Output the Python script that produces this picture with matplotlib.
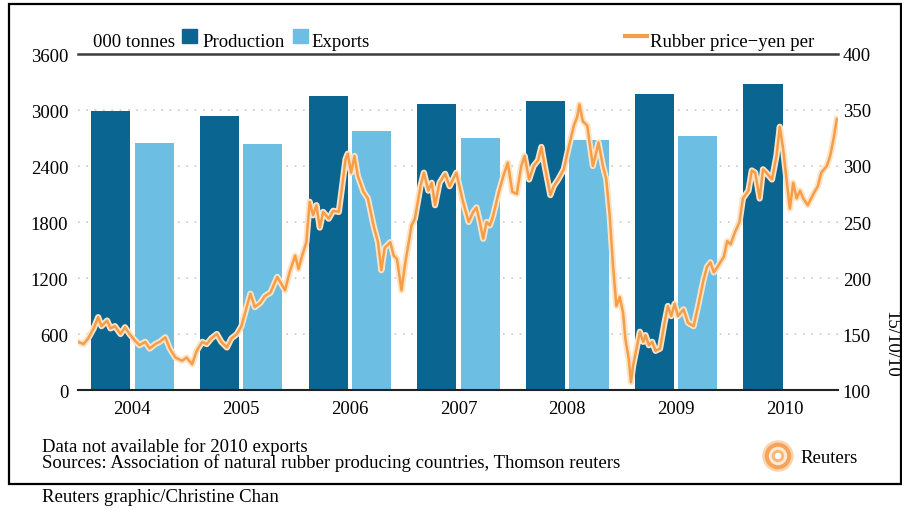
import matplotlib
matplotlib.use('Agg')
import matplotlib.pyplot as plt
import matplotlib.patheffects as pe
from matplotlib.patches import Rectangle, Circle

plt.rcParams['font.family'] = ['Liberation Serif', 'DejaVu Serif']
plt.rcParams['font.size'] = 13.5

# 000 tonnes
years = ['2004', '2005', '2006', '2007', '2008', '2009', '2010']
production = [2990, 2940, 3145, 3065, 3100, 3170, 3280]
exports = [2645, 2635, 2780, 2705, 2680, 2725]  # no 2010 data

# rubber price, yen per kg (date as fractional year)
price_t = [2004.00, 2004.05, 2004.09, 2004.14, 2004.18, 2004.21, 2004.26, 2004.29, 2004.33, 2004.38,
           2004.42, 2004.46, 2004.51, 2004.55, 2004.60, 2004.64, 2004.69, 2004.73, 2004.78, 2004.82,
           2004.87, 2004.93, 2004.97, 2005.02, 2005.06, 2005.11, 2005.15, 2005.19, 2005.24, 2005.28,
           2005.33, 2005.37, 2005.42, 2005.46, 2005.51, 2005.54, 2005.58, 2005.63, 2005.67, 2005.72,
           2005.78, 2005.85, 2005.89, 2005.94, 2005.97, 2006.00, 2006.04, 2006.07, 2006.10, 2006.13,
           2006.16, 2006.19, 2006.24, 2006.28, 2006.33, 2006.36, 2006.39, 2006.41, 2006.44, 2006.47,
           2006.50, 2006.55, 2006.59, 2006.64, 2006.68, 2006.71, 2006.74, 2006.79, 2006.82, 2006.85,
           2006.89, 2006.92, 2006.95, 2006.98, 2007.01, 2007.06, 2007.09, 2007.13, 2007.16, 2007.19,
           2007.23, 2007.28, 2007.32, 2007.38, 2007.41, 2007.44, 2007.49, 2007.53, 2007.56, 2007.59,
           2007.62, 2007.65, 2007.68, 2007.71, 2007.76, 2007.80, 2007.84, 2007.88, 2007.92, 2007.96,
           2007.99, 2008.03, 2008.07, 2008.11, 2008.14, 2008.17, 2008.22, 2008.25, 2008.29, 2008.34,
           2008.38, 2008.43, 2008.46, 2008.48, 2008.51, 2008.55, 2008.57, 2008.60, 2008.63, 2008.65,
           2008.69, 2008.72, 2008.75, 2008.78, 2008.81, 2008.84, 2008.87, 2008.89, 2008.92, 2008.94,
           2008.96, 2008.99, 2009.02, 2009.05, 2009.07, 2009.10, 2009.13, 2009.16, 2009.20, 2009.24,
           2009.27, 2009.30, 2009.33, 2009.36, 2009.41, 2009.45, 2009.50, 2009.54, 2009.59, 2009.62,
           2009.65, 2009.68, 2009.72, 2009.77, 2009.80, 2009.83, 2009.87, 2009.91, 2009.94, 2009.99,
           2010.02, 2010.05, 2010.09, 2010.12, 2010.15, 2010.20, 2010.24, 2010.27, 2010.30, 2010.33,
           2010.36, 2010.39, 2010.42, 2010.45, 2010.48, 2010.52, 2010.57, 2010.61, 2010.64, 2010.69,
           2010.72, 2010.75, 2010.78]
price = [143, 141, 146, 155, 165, 157, 162, 155, 157, 150,
         156, 150, 144, 140, 143, 137, 141, 143, 147, 137,
         129, 126, 129, 123, 135, 143, 141, 146, 150, 143,
         138, 146, 150, 157, 175, 186, 174, 178, 184, 187,
         201, 189, 205, 220, 208, 219, 232, 268, 256, 265,
         245, 259, 253, 260, 259, 282, 306, 311, 294, 309,
         291, 277, 271, 247, 232, 207, 227, 232, 220, 217,
         189, 211, 229, 247, 253, 282, 294, 278, 285, 265,
         285, 293, 282, 294, 281, 268, 250, 259, 263, 250,
         235, 250, 247, 256, 277, 291, 303, 277, 275, 300,
         309, 288, 300, 305, 317, 300, 274, 282, 288, 297,
         315, 336, 344, 355, 340, 336, 321, 300, 312, 321,
         300, 288, 256, 211, 175, 183, 169, 146, 128, 107,
         122, 137, 152, 143, 149, 140, 143, 135, 137, 160,
         175, 166, 177, 166, 172, 160, 157, 175, 199, 210,
         214, 205, 211, 219, 233, 230, 241, 250, 271, 278,
         296, 294, 271, 297, 294, 288, 309, 335, 315, 288,
         262, 285, 271, 278, 271, 265, 275, 282, 294, 300,
         309, 324, 342]

W, H = 903, 510
fig = plt.figure(figsize=(W / 100, H / 100), dpi=100)
fig.patch.set_facecolor('white')

pos = [78 / W, 1 - 391 / H, 760 / W, 336 / H]
ax = fig.add_axes(pos)
x = list(range(len(years)))
bw = 0.36
ax.bar([i - 0.2 for i in x], production, width=bw, color='#0a6591', zorder=2)
ax.bar([i + 0.2 for i in x[:len(exports)]], exports, width=bw, color='#6cbee2', zorder=2)
for v in [600, 1200, 1800, 2400, 3000]:
    ax.axhline(v, color='#c9c9c9', lw=1.2, ls=(0, (1, 4)), zorder=0)
ax.axhline(3600, color='#3c3c3c', lw=1.8, zorder=3, clip_on=False)
ax.axhline(0, color='#222222', lw=1.5, zorder=3, clip_on=False)
ax.set_xlim(-0.5, 6.49)
ax.set_ylim(0, 3600)
ax.set_yticks([0, 600, 1200, 1800, 2400, 3000, 3600])
ax.set_xticks(x)
ax.set_xticklabels(years)
ax.tick_params(axis='both', length=0)
ax.tick_params(axis='y', pad=7)
ax.tick_params(axis='x', pad=7)
for s in ax.spines.values():
    s.set_visible(False)

# price on its own axes laid over the bars
axp = fig.add_axes(pos)
axp.patch.set_visible(False)
axp.plot(price_t, price, color='#f59e47', lw=1.8, zorder=4,
         path_effects=[pe.Stroke(linewidth=4.5, foreground='#fde3c6'), pe.Normal()])
axp.set_xlim(2004.0, 2010.79)
axp.set_ylim(100, 400)
axp.set_xticks([])
axp.yaxis.tick_right()
axp.set_yticks([100, 150, 200, 250, 300, 350, 400])
axp.tick_params(axis='y', length=0, pad=3.5)
for s in axp.spines.values():
    s.set_visible(False)

# legend line
fig.text(93 / W, 1 - 47 / H, '000 tonnes', va='baseline', ha='left')
fig.patches.append(Rectangle((182 / W, 1 - 44 / H), 15 / W, 14 / H, color='#0a6591',
                             transform=fig.transFigure, figure=fig))
fig.text(202 / W, 1 - 47 / H, 'Production', va='baseline', ha='left')
fig.patches.append(Rectangle((293 / W, 1 - 44 / H), 15 / W, 14 / H, color='#6cbee2',
                             transform=fig.transFigure, figure=fig))
fig.text(311 / W, 1 - 47 / H, 'Exports', va='baseline', ha='left')
fig.lines.append(plt.Line2D([625 / W, 647 / W], [1 - 37 / H, 1 - 37 / H], color='#f59e47',
                            lw=3, transform=fig.transFigure, figure=fig))
fig.text(650 / W, 1 - 47 / H, 'Rubber price\u2212yen per', va='baseline', ha='left')

# notes
fig.text(42 / W, 1 - 447 / H, 'Data not available for 2010 exports', va='center', ha='left')
fig.text(42 / W, 1 - 463 / H, 'Sources: Association of natural rubber producing countries, Thomson reuters',
         va='center', ha='left')
fig.text(42 / W, 1 - 498 / H, 'Reuters graphic/Christine Chan', va='center', ha='left')
fig.text(891 / W, 1 - 344 / H, '15/10/10', rotation=270, va='center', ha='center')

# reuters mark
cx, cy = 7.78, (H - 457) / 100
for r, c in [(0.15, '#fbd3ad'), (0.125, '#f6a45a'), (0.085, '#fde9d6'), (0.055, '#f8b878'), (0.025, 'white')]:
    fig.patches.append(Circle((cx, cy), r, color=c, transform=fig.dpi_scale_trans, figure=fig))
fig.text(800 / W, 1 - 459 / H, 'Reuters', va='center', ha='left')

# frame
fig.patches.append(Rectangle((9 / W, 1 - 485 / H), 892 / W, 480 / H, fill=False, ec='black', lw=1.6,
                             transform=fig.transFigure, figure=fig))

fig.savefig('out.png', dpi=100)
